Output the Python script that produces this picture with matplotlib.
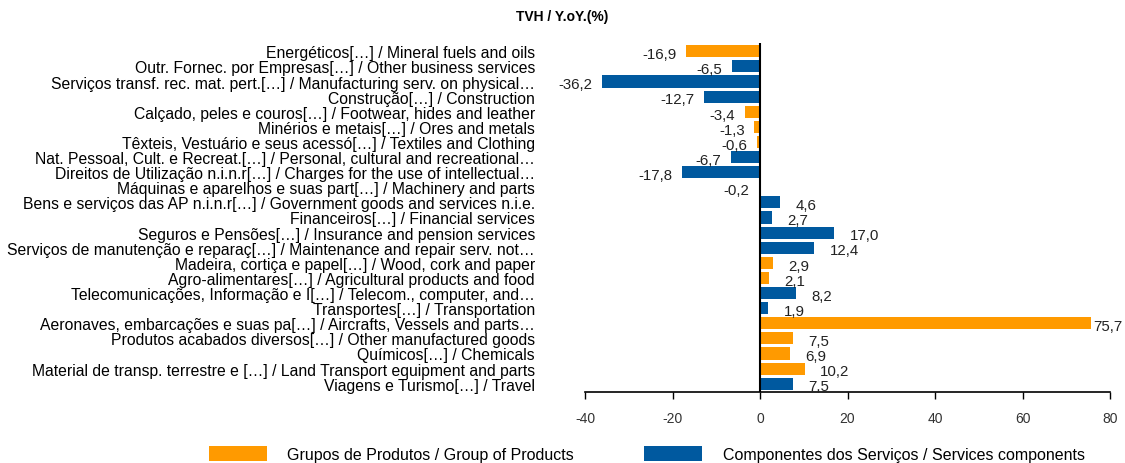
import matplotlib
matplotlib.use("Agg")
import matplotlib.pyplot as plt
from matplotlib.patches import Patch

plt.rcParams['font.family'] = ['Liberation Sans', 'DejaVu Sans']

categories = [
    "Energéticos[…] / Mineral fuels and oils",
    "Outr. Fornec. por Empresas[…] / Other business services",
    "Serviços transf. rec. mat. pert.[…] / Manufacturing serv. on physical…",
    "Construção[…] / Construction",
    "Calçado, peles e couros[…] / Footwear, hides and leather",
    "Minérios e metais[…] / Ores and metals",
    "Têxteis, Vestuário e seus acessó[…] / Textiles and Clothing",
    "Nat. Pessoal, Cult. e Recreat.[…] / Personal, cultural and recreational…",
    "Direitos de Utilização n.i.n.r[…] / Charges for the use of intellectual…",
    "Máquinas e aparelhos e suas part[…] / Machinery and parts",
    "Bens e serviços das AP n.i.n.r[…] / Government goods and services n.i.e.",
    "Financeiros[…] / Financial services",
    "Seguros e Pensões[…] / Insurance and pension services",
    "Serviços de manutenção e reparaç[…] / Maintenance and repair serv. not…",
    "Madeira, cortiça e papel[…] / Wood, cork and paper",
    "Agro-alimentares[…] / Agricultural products and food",
    "Telecomunicações, Informação e I[…] / Telecom., computer, and…",
    "Transportes[…] / Transportation",
    "Aeronaves, embarcações e suas pa[…] / Aircrafts, Vessels and parts…",
    "Produtos acabados diversos[…] / Other manufactured goods",
    "Químicos[…] / Chemicals",
    "Material de transp. terrestre e […] / Land Transport equipment and parts",
    "Viagens e Turismo[…] / Travel",
]
values = [-16.9, -6.5, -36.2, -12.7, -3.4, -1.3, -0.6, -6.7, -17.8, -0.2,
          4.6, 2.7, 17.0, 12.4, 2.9, 2.1, 8.2, 1.9, 75.7, 7.5, 6.9, 10.2, 7.5]
# 'P' = Grupos de Produtos, 'S' = Componentes dos Serviços
groups = ['P', 'S', 'S', 'S', 'P', 'P', 'P', 'S', 'S', 'P',
          'S', 'S', 'S', 'S', 'P', 'P', 'S', 'S', 'P', 'P', 'P', 'P', 'S']
xticks = [-40, -20, 0, 20, 40, 60, 80]
title = "TVH / Y.oY.(%)"
legend_labels = ["Grupos de Produtos / Group of Products",
                 "Componentes dos Serviços / Services components"]

ORANGE = '#FF9A00'
BLUE = '#00599F'
colors = {'P': ORANGE, 'S': BLUE}
XMIN, XMAX = -40, 80

fig = plt.figure(figsize=(11.25, 4.64), dpi=100)
ax = fig.add_axes([585/1125, 71/464, (1110-585)/1125, (393-44)/464])

ypos = list(range(len(categories)))
ax.barh(ypos, values, height=0.8, color=[colors[g] for g in groups], zorder=2)
ax.set_ylim(len(categories) - 0.45, -0.55)
ax.set_xlim(XMIN, XMAX)

ax.axvline(0, color='black', lw=1.5, zorder=3)

for y, v in zip(ypos, values):
    label = f"{v:.1f}".replace('.', ',')
    if v < 0:
        ax.annotate(label, (v, y), xytext=(-7, -2), textcoords='offset points',
                    ha='right', va='center', fontsize=10.8, color='#222222')
    else:
        dx = 1.5 if v > 0.85 * XMAX else 11
        ax.annotate(label, (v, y), xytext=(dx, -2), textcoords='offset points',
                    ha='left', va='center', fontsize=10.8, color='#222222')

ax.set_yticks(ypos)
ax.set_yticklabels(categories, fontsize=11.3)
ax.tick_params(axis='y', length=0, pad=36)
ax.set_xticks(xticks)
ax.set_xticklabels([str(t) for t in xticks], fontsize=10, color='#333333')
ax.tick_params(axis='x', direction='out', length=5, width=1, pad=9)

for s in ['top', 'right', 'left']:
    ax.spines[s].set_visible(False)
ax.spines['bottom'].set_color('black')
ax.spines['bottom'].set_linewidth(1.2)

fig.text(0.5, 1 - 17/464, title, ha='center', va='center', fontsize=10, fontweight='bold')

handles = [Patch(facecolor=ORANGE, edgecolor='none'), Patch(facecolor=BLUE, edgecolor='none')]
fig.legend(handles, legend_labels, loc='center', bbox_to_anchor=(0.575, 1 - 455/464), ncol=2,
           frameon=False, fontsize=11.5, handlelength=3.6, handleheight=1.1,
           handletextpad=1.3, columnspacing=4.4)

fig.savefig('out.png', dpi=100)
